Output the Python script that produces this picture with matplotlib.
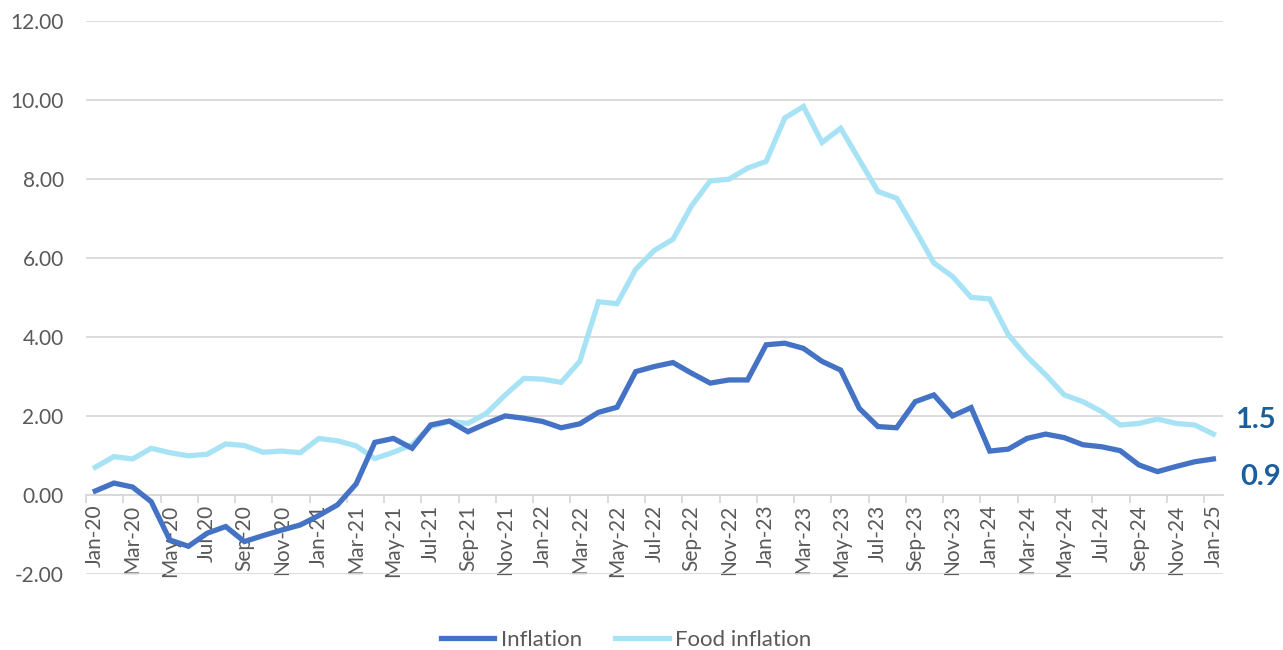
import numpy as np
import matplotlib
matplotlib.use("Agg")
import matplotlib.pyplot as plt
from matplotlib.ticker import FixedLocator, FormatStrFormatter

# Meses Jan-20 .. Jan-25
months = ["Jan", "Feb", "Mar", "Apr", "May", "Jun",
          "Jul", "Aug", "Sep", "Oct", "Nov", "Dec"]
labels = [f"{m}-{y}" for y in range(20, 25) for m in months] + ["Jan-25"]

inflation = [0.10, 0.30, 0.20, -0.17, -1.14, -1.30, -0.97, -0.80, -1.18, -1.03,
             -0.89, -0.76, -0.52, -0.25, 0.28, 1.33, 1.43, 1.18, 1.77, 1.87,
             1.60, 1.81, 2.00, 1.94, 1.86, 1.70, 1.80, 2.09, 2.22, 3.12,
             3.25, 3.35, 3.08, 2.83, 2.91, 2.91, 3.80, 3.84, 3.71, 3.38,
             3.16, 2.19, 1.73, 1.70, 2.36, 2.53, 2.00, 2.21, 1.11, 1.16,
             1.43, 1.54, 1.45, 1.27, 1.22, 1.12, 0.76, 0.59, 0.72, 0.84,
             0.91]

food_inflation = [0.70, 0.97, 0.91, 1.18, 1.07, 0.99, 1.03, 1.29, 1.25, 1.08,
                  1.11, 1.07, 1.43, 1.37, 1.24, 0.92, 1.08, 1.27, 1.73, 1.86,
                  1.81, 2.07, 2.53, 2.95, 2.93, 2.85, 3.38, 4.89, 4.84, 5.71,
                  6.19, 6.47, 7.32, 7.95, 7.99, 8.27, 8.44, 9.54, 9.83, 8.92,
                  9.28, 8.48, 7.68, 7.51, 6.71, 5.87, 5.53, 5.00, 4.96, 4.05,
                  3.50, 3.04, 2.53, 2.36, 2.11, 1.77, 1.81, 1.92, 1.81, 1.77,
                  1.54]

end_labels = ["1.5", "0.9"]

c_infl = "#4472C4"
c_food = "#A8E3F5"
c_lab = "#1B5E9E"
c_grid = "#D9D9D9"
c_text = "#595959"

plt.rcParams['font.family'] = ['Lato', 'DejaVu Sans']

x = np.arange(len(labels))

fig = plt.figure(figsize=(12.83, 6.5), dpi=100)
ax = fig.add_axes([0.067, 0.117, 0.886, 0.851])

ax.plot(x, inflation, color=c_infl, lw=3.8, label="Inflation",
        solid_joinstyle="miter", zorder=3)
ax.plot(x, food_inflation, color=c_food, lw=3.8, label="Food inflation",
        solid_joinstyle="miter", zorder=2)

ax.set_xlim(-0.5, len(labels) - 0.5)
ax.set_ylim(-2, 12)
ax.set_yticks(np.arange(-2, 13, 2))
ax.yaxis.set_major_formatter(FormatStrFormatter("%.2f"))
ax.grid(axis="y", color=c_grid, lw=1.3, zorder=0)
ax.tick_params(axis="y", length=0, pad=16, labelsize=15, labelcolor=c_text)

for s in ["top", "right", "left"]:
    ax.spines[s].set_visible(False)
ax.spines["bottom"].set_position(("data", 0))
ax.spines["bottom"].set_color(c_grid)
ax.spines["bottom"].set_linewidth(1.3)

ax.set_xticks(x[::2])
ax.set_xticklabels(labels[::2], rotation=90)
ax.xaxis.set_minor_locator(FixedLocator(np.arange(-0.5, len(labels), 2)))
ax.tick_params(axis="x", which="major", length=0, pad=7, labelsize=15,
               labelcolor=c_text)
ax.tick_params(axis="x", which="minor", length=6, width=1.3, color=c_grid)

# Etiquetas finales
ax.annotate(end_labels[0], xy=(x[-1], food_inflation[-1]), xytext=(30, 10),
            textcoords="offset points", ha="center", va="center",
            fontsize=21, fontweight="bold", color=c_lab, annotation_clip=False)
ax.annotate(end_labels[1], xy=(x[-1], inflation[-1]), xytext=(34, -13),
            textcoords="offset points", ha="center", va="center",
            fontsize=21, fontweight="bold", color=c_lab, annotation_clip=False)

leg = fig.legend(loc="center", bbox_to_anchor=(0.488, 0.016), ncol=2,
                 frameon=False, fontsize=16, handlelength=2.4,
                 columnspacing=1.5, handletextpad=0.3)
for t in leg.get_texts():
    t.set_color(c_text)

fig.savefig("out.png", dpi=100)
